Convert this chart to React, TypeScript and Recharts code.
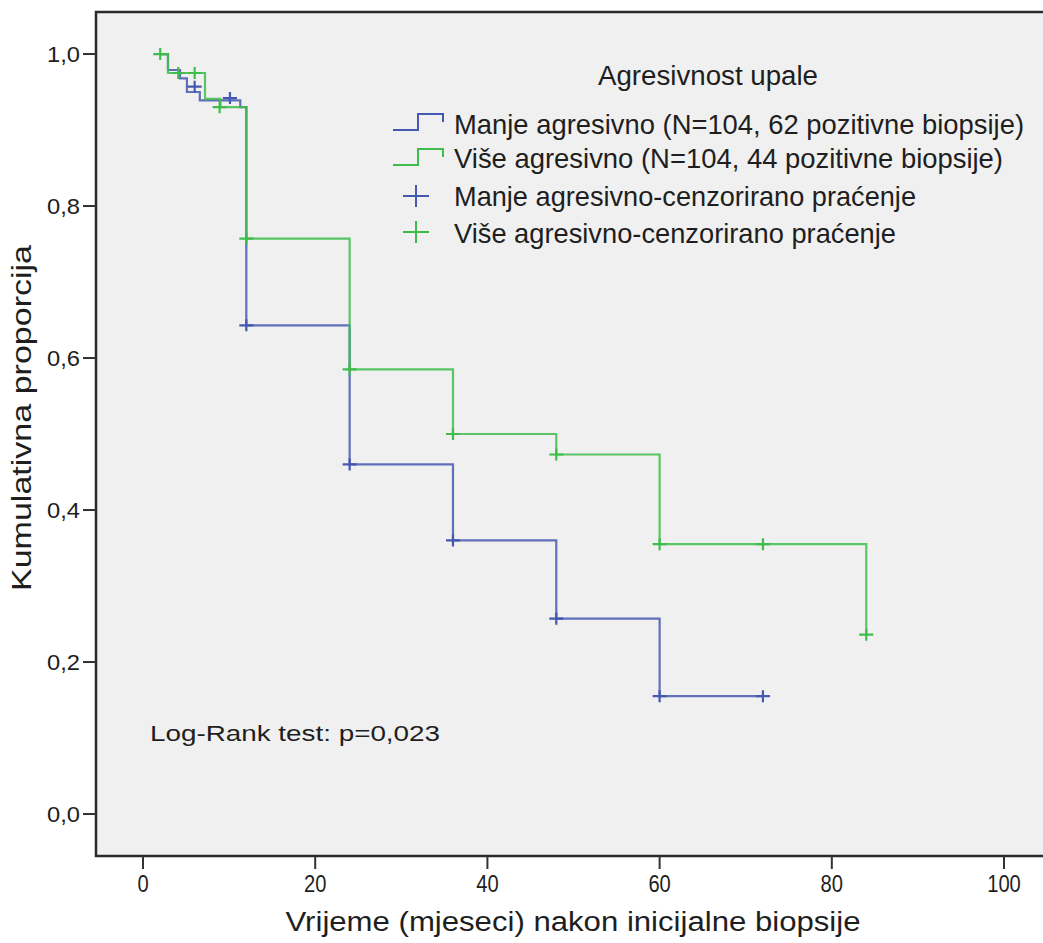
import React from "react";
import {
  ComposedChart,
  Line,
  Scatter,
  XAxis,
  YAxis,
  CartesianGrid,
  ReferenceArea,
} from "recharts";

// ---- data ----
const xTicks = [0, 20, 40, 60, 80, 100];
const yTicks = [0, 0.2, 0.4, 0.6, 0.8, 1.0];

const blueSteps = [
  { t: 2, s: 1.0 },
  { t: 2.9, s: 0.979 },
  { t: 4.3, s: 0.968 },
  { t: 5.1, s: 0.95 },
  { t: 6.6, s: 0.939 },
  { t: 11.3, s: 0.93 },
  { t: 12, s: 0.643 },
  { t: 24, s: 0.46 },
  { t: 36, s: 0.36 },
  { t: 48, s: 0.257 },
  { t: 60, s: 0.155 },
  { t: 72, s: 0.155 },
];

const greenSteps = [
  { t: 2, s: 1.0 },
  { t: 2.9, s: 0.975 },
  { t: 7.2, s: 0.941 },
  { t: 9.0, s: 0.93 },
  { t: 12, s: 0.757 },
  { t: 24, s: 0.585 },
  { t: 36, s: 0.5 },
  { t: 48, s: 0.473 },
  { t: 60, s: 0.355 },
  { t: 84, s: 0.236 },
];

const blueCensor = [
  { t: 6.0, s: 0.957 },
  { t: 10.1, s: 0.942 },
  { t: 12, s: 0.643 },
  { t: 24, s: 0.46 },
  { t: 36, s: 0.36 },
  { t: 48, s: 0.257 },
  { t: 60, s: 0.155 },
  { t: 72, s: 0.155 },
];

const greenCensor = [
  { t: 2, s: 1.0 },
  { t: 4.1, s: 0.975 },
  { t: 6.0, s: 0.975 },
  { t: 8.9, s: 0.93 },
  { t: 12, s: 0.757 },
  { t: 24, s: 0.585 },
  { t: 36, s: 0.5 },
  { t: 48, s: 0.473 },
  { t: 60, s: 0.355 },
  { t: 72, s: 0.355 },
  { t: 84, s: 0.236 },
];

const legendTitle = "Agresivnost upale";
const legendLabels = [
  "Manje agresivno (N=104, 62 pozitivne biopsije)",
  "Više agresivno (N=104, 44 pozitivne biopsije)",
  "Manje agresivno-cenzorirano praćenje",
  "Više agresivno-cenzorirano praćenje",
];
const xTitle = "Vrijeme (mjeseci) nakon inicijalne biopsije";
const yTitle = "Kumulativna proporcija";
const noteText = "Log-Rank test: p=0,023";

const BLUE = "#4558b0";
const GREEN = "#3fbd4c";
const TEXT = "#1e1e1e";
const FONT = "'Liberation Sans', Arial, sans-serif";

const X_DOMAIN: [number, number] = [-5.459, 105.34];
const Y_DOMAIN: [number, number] = [-0.0553, 1.0553];

const fmt = (v: number) => v.toFixed(1).replace(".", ",");

const XTick = (props: any) => {
  const { x, y, payload } = props;
  const label = String(payload.value);
  return (
    <text
      x={x}
      y={y}
      dy="0.72em"
      textAnchor="middle"
      fontSize={23}
      fontFamily={FONT}
      fill={TEXT}
      textLength={label.length * 11.2}
      lengthAdjust="spacingAndGlyphs"
    >
      {label}
    </text>
  );
};

const YTick = (props: any) => {
  const { x, y, payload } = props;
  return (
    <text
      x={x}
      y={y}
      dy="0.36em"
      textAnchor="end"
      fontSize={22}
      fontFamily={FONT}
      fill={TEXT}
      textLength={33}
      lengthAdjust="spacingAndGlyphs"
    >
      {fmt(payload.value)}
    </text>
  );
};

const makeCross = (color: string) => (props: any) => {
  const { cx, cy } = props;
  if (cx == null || cy == null) return <g />;
  return (
    <path
      d={`M${cx - 7},${cy}H${cx + 7}M${cx},${cy - 6}V${cy + 6}`}
      stroke={color}
      strokeWidth={2.2}
      fill="none"
    />
  );
};

const BlueCross = makeCross(BLUE);
const GreenCross = makeCross(GREEN);

const stepIcon = (x: number, yBase: number, color: string) => (
  <path
    d={`M${x},${yBase + 8}H${x + 25}V${yBase - 8}H${x + 50}V${yBase}`}
    stroke={color}
    strokeWidth={2}
    fill="none"
  />
);

const crossIcon = (cx: number, cy: number, color: string) => (
  <path
    d={`M${cx - 13},${cy}H${cx + 13}M${cx},${cy - 11}V${cy + 11}`}
    stroke={color}
    strokeWidth={2}
    fill="none"
  />
);

export default function App() {
  const textCommon = {
    fontFamily: FONT,
    fill: TEXT,
    lengthAdjust: "spacingAndGlyphs" as const,
  };
  return (
    <div
      style={{
        position: "absolute",
        left: 0,
        top: 0,
        width: 1043,
        height: 943,
        overflow: "hidden",
        background: "#ffffff",
      }}
    >
      <ComposedChart
        width={1100}
        height={943}
        margin={{ top: 12, right: 50, bottom: 0, left: 0 }}
      >
        <CartesianGrid
          horizontal={false}
          vertical={false}
          fill="#f0f0f0"
          stroke="none"
        />
        <XAxis
          type="number"
          dataKey="t"
          domain={X_DOMAIN}
          ticks={xTicks}
          allowDataOverflow
          height={87}
          axisLine={false}
          tickSize={13}
          tickMargin={6}
          tickLine={{ stroke: "#333", strokeWidth: 2 }}
          tick={<XTick />}
          interval={0}
        />
        <YAxis
          type="number"
          dataKey="s"
          domain={Y_DOMAIN}
          ticks={yTicks}
          allowDataOverflow
          width={96}
          axisLine={false}
          tickSize={13}
          tickMargin={3}
          tickLine={{ stroke: "#333", strokeWidth: 2 }}
          tick={<YTick />}
          interval={0}
        />
        <ReferenceArea
          x1={X_DOMAIN[0]}
          x2={X_DOMAIN[1]}
          y1={Y_DOMAIN[0]}
          y2={Y_DOMAIN[1]}
          fill="none"
          fillOpacity={0}
          stroke="#2a2a2a"
          strokeWidth={2.5}
          ifOverflow="visible"
        />
        <Line
          data={blueSteps}
          dataKey="s"
          type="stepAfter"
          stroke={BLUE}
          strokeWidth={2.2}
          strokeOpacity={0.85}
          dot={false}
          activeDot={false}
          isAnimationActive={false}
        />
        <Line
          data={greenSteps}
          dataKey="s"
          type="stepAfter"
          stroke={GREEN}
          strokeWidth={2.2}
          strokeOpacity={0.85}
          dot={false}
          activeDot={false}
          isAnimationActive={false}
        />
        <Scatter
          data={blueCensor}
          dataKey="s"
          shape={BlueCross}
          isAnimationActive={false}
        />
        <Scatter
          data={greenCensor}
          dataKey="s"
          shape={GreenCross}
          isAnimationActive={false}
        />
      </ComposedChart>
      <svg
        width={1043}
        height={943}
        style={{ position: "absolute", left: 0, top: 0, pointerEvents: "none" }}
      >
        <text x={708} y={85} textAnchor="middle" fontSize={27} textLength={220} {...textCommon}>
          {legendTitle}
        </text>
        {stepIcon(393, 122, BLUE)}
        <text x={454} y={134} fontSize={28} textLength={570} {...textCommon}>
          {legendLabels[0]}
        </text>
        {stepIcon(393, 157, GREEN)}
        <text x={454} y={168} fontSize={28} textLength={549} {...textCommon}>
          {legendLabels[1]}
        </text>
        {crossIcon(416, 196, BLUE)}
        <text x={454} y={206} fontSize={28} textLength={462} {...textCommon}>
          {legendLabels[2]}
        </text>
        {crossIcon(416, 232, GREEN)}
        <text x={454} y={243} fontSize={28} textLength={442} {...textCommon}>
          {legendLabels[3]}
        </text>
        <text x={150} y={741} fontSize={22} textLength={290} {...textCommon}>
          {noteText}
        </text>
        <text x={573} y={931} textAnchor="middle" fontSize={27} textLength={575} {...textCommon}>
          {xTitle}
        </text>
        <text
          x={31}
          y={418}
          textAnchor="middle"
          fontSize={27}
          textLength={346}
          transform="rotate(-90 31 418)"
          {...textCommon}
        >
          {yTitle}
        </text>
      </svg>
    </div>
  );
}
